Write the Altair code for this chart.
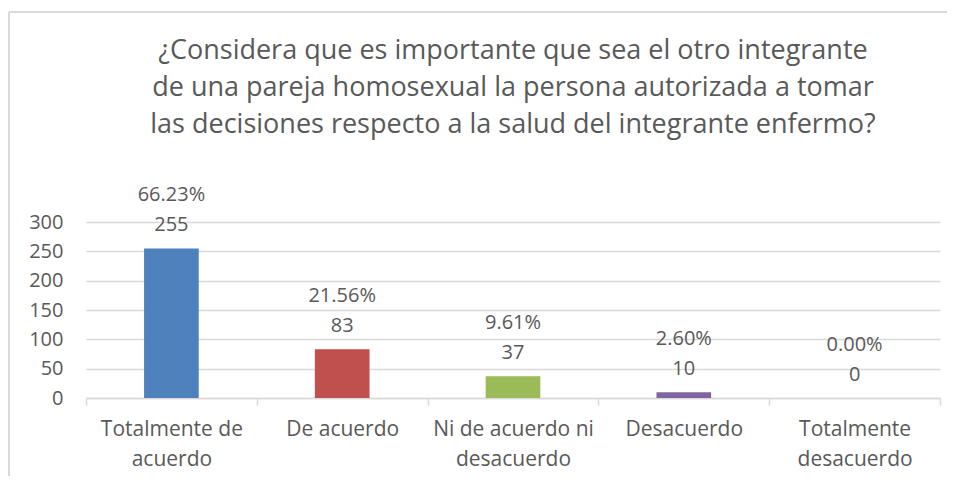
import altair as alt
import pandas as pd

categories = ["Totalmente de\nacuerdo", "De acuerdo", "Ni de acuerdo ni\ndesacuerdo", "Desacuerdo", "Totalmente\ndesacuerdo"]
counts = [255, 83, 37, 10, 0]
percents = ["66.23%", "21.56%", "9.61%", "2.60%", "0.00%"]
colors = ["#4F81BD", "#C0504D", "#9BBB59", "#8064A2", "#4BACC6"]
title_lines = [
    "¿Considera que es importante que sea el otro integrante",
    "de una pareja homosexual la persona autorizada a tomar",
    "las decisiones respecto a la salud del integrante enfermo?",
]
y_ticks = [0, 50, 100, 150, 200, 250, 300]

df = pd.DataFrame({"cat": categories, "count": counts, "pct": percents, "color": colors})

TEXT = "#595959"
GRID = "#D9D9D9"
FONT = "Open Sans"

x_enc = alt.X(
    "cat:N",
    sort=categories,
    scale=alt.Scale(paddingInner=0, paddingOuter=0),
    axis=alt.Axis(
        title=None,
        labelAngle=0,
        labelExpr="isValid(datum.value) ? split(datum.value, '\\n') : ''",
        labelFontSize=21,
        labelLineHeight=30,
        labelColor=TEXT,
        labelFont=FONT,
        labelPadding=13,
        labelOverlap=False,
        tickBand="extent",
        ticks=True,
        tickSize=7,
        tickColor=GRID,
        tickWidth=1.5,
        domainColor=GRID,
        domainWidth=1.5,
        grid=False,
        labelBaseline="top",
    ),
)

y_enc = alt.Y(
    "count:Q",
    scale=alt.Scale(domain=[0, 300], nice=False),
    axis=alt.Axis(
        title=None,
        values=y_ticks,
        labelFontSize=20,
        labelColor=TEXT,
        labelFont=FONT,
        labelPadding=23,
        labelOverlap=False,
        ticks=False,
        domain=False,
        gridColor=GRID,
        gridWidth=1.5,
    ),
)

bars = alt.Chart(df).mark_bar(width=alt.RelativeBandSize(0.32)).encode(
    x=x_enc,
    y=y_enc,
    color=alt.Color("color:N", scale=None),
)

count_text = alt.Chart(df).mark_text(
    dy=-17, baseline="alphabetic", fontSize=20, font=FONT, color=TEXT
).encode(x=x_enc, y=y_enc, text="count:Q")

pct_text = alt.Chart(df).mark_text(
    dy=-47, baseline="alphabetic", fontSize=20, font=FONT, color=TEXT
).encode(x=x_enc, y=y_enc, text="pct:N")

frame_data = alt.Data(values=[{"k": 1}])
frame_top = alt.Chart(frame_data).mark_rule(color=GRID, strokeWidth=2).encode(
    x=alt.value(-77), x2=alt.value(880), y=alt.value(-210)
)
frame_left = alt.Chart(frame_data).mark_rule(color=GRID, strokeWidth=2).encode(
    x=alt.value(-77), y=alt.value(-210), y2=alt.value(270)
)

chart = alt.layer(bars, count_text, pct_text, frame_top, frame_left).properties(
    width=854,
    height=176,
    padding={"left": 78, "top": 214, "right": 7, "bottom": 78},
    autosize=alt.AutoSizeParams(type="none"),
    title=alt.TitleParams(
        text=title_lines,
        fontSize=27,
        lineHeight=37,
        font=FONT,
        color=TEXT,
        fontWeight="normal",
        anchor="middle",
        frame="group",
        offset=45,
        dy=173,
    ),
).configure_view(stroke=None)

chart.save("out.html", embed_options={"renderer": "svg", "actions": False})
